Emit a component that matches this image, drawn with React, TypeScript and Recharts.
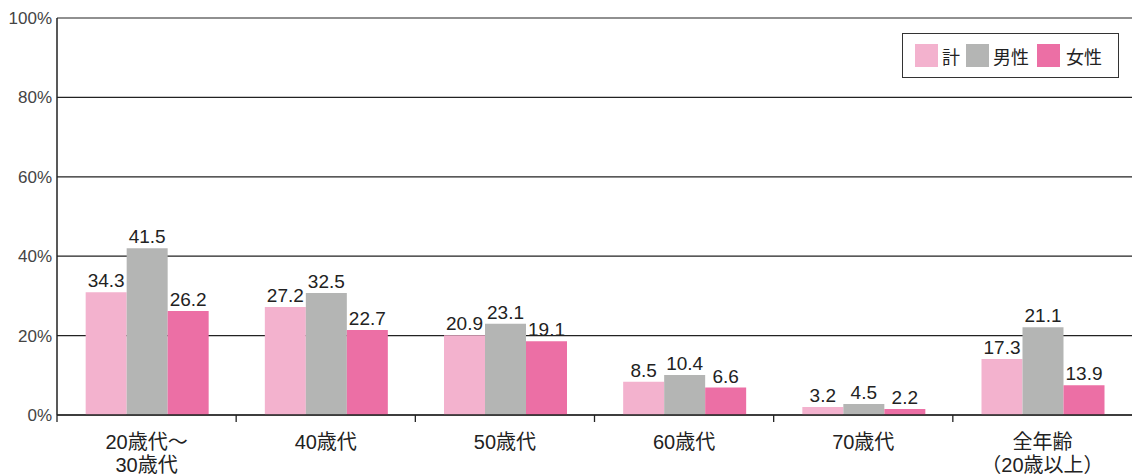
import React from 'react';
import { BarChart, Bar, XAxis, YAxis, CartesianGrid, LabelList } from 'recharts';

const categories = ['20歳代～\n30歳代', '40歳代', '50歳代', '60歳代', '70歳代', '全年齢\n（20歳以上）'];
const totalBars = [30.9, 27.2, 20.1, 8.4, 2.0, 14.1];
const maleBars = [42.0, 30.7, 23.0, 10.1, 2.8, 22.1];
const femaleBars = [26.2, 21.4, 18.6, 6.9, 1.5, 7.5];
const totalLabels = ['34.3', '27.2', '20.9', '8.5', '3.2', '17.3'];
const maleLabels = ['41.5', '32.5', '23.1', '10.4', '4.5', '21.1'];
const femaleLabels = ['26.2', '22.7', '19.1', '6.6', '2.2', '13.9'];
const yTicks = [0, 20, 40, 60, 80, 100];
const seriesNames = ['計', '男性', '女性'];
const colors = ['#F3B2CE', '#B4B5B4', '#EC6FA5'];

const data = categories.map((c, i) => ({
  name: c,
  total: totalBars[i],
  male: maleBars[i],
  female: femaleBars[i],
  totalLabel: totalLabels[i],
  maleLabel: maleLabels[i],
  femaleLabel: femaleLabels[i],
}));

const FONT = "'Liberation Sans', 'Noto Sans CJK JP', sans-serif";
const W = 1132;
const H = 476;
const LEFT = 57;
const BAND = (W - LEFT) / categories.length;

const CategoryTick = (props: any) => {
  const { x, y, payload } = props;
  const lines = String(payload.value).split('\n');
  const axisY = y - 8;
  return (
    <g>
      <line x1={x - BAND / 2} x2={x - BAND / 2} y1={axisY} y2={axisY + 7} stroke="#222" strokeWidth={1.3} />
      <text x={x} y={axisY + 34} textAnchor="middle" fontFamily={FONT} fontSize={20} fill="#222">
        {lines.map((l, i) => (
          <tspan key={i} x={x} dy={i === 0 ? 0 : 23}>{l}</tspan>
        ))}
      </text>
    </g>
  );
};

const LegendBox = () => (
  <div
    style={{
      position: 'absolute',
      left: 902,
      top: 33,
      width: 217,
      height: 45,
      border: '1.5px solid #333',
      background: '#fff',
      display: 'flex',
      alignItems: 'center',
      fontFamily: FONT,
      fontSize: 18,
      color: '#222',
      boxSizing: 'border-box',
      paddingLeft: 12,
    }}
  >
    {seriesNames.map((n, i) => (
      <div key={n} style={{ display: 'flex', alignItems: 'center', marginRight: i === 1 ? 8 : 6 }}>
        <div style={{ width: 23, height: 23, background: colors[i], marginRight: i === 2 ? 6 : 4 }} />
        <span>{n}</span>
      </div>
    ))}
  </div>
);

const labelStyle = { fontFamily: FONT, fontSize: 19, fill: '#222' };

export default function App() {
  return (
    <div style={{ position: 'absolute', left: 0, top: 0, width: W, height: H, background: '#fff' }}>
      <BarChart
        width={W}
        height={H}
        data={data}
        margin={{ top: 18, right: 0, bottom: 0, left: 0 }}
        barGap={0}
        barCategoryGap="16%"
      >
        <CartesianGrid vertical={false} stroke="#222" strokeWidth={1.2} />
        <XAxis
          dataKey="name"
          axisLine={{ stroke: '#222', strokeWidth: 1.5 }}
          tickLine={false}
          tick={<CategoryTick />}
          interval={0}
          height={61}
        />
        <YAxis
          domain={[0, 100]}
          ticks={yTicks}
          width={LEFT}
          tickFormatter={(v: number) => `${v}%`}
          axisLine={{ stroke: '#222', strokeWidth: 1.5 }}
          tickLine={false}
          tickSize={0}
          tickMargin={5}
          tick={{ fontFamily: FONT, fontSize: 17, fill: '#444' }}
        />
        <Bar dataKey="total" name="計" fill={colors[0]} isAnimationActive={false}>
          <LabelList dataKey="totalLabel" position="top" offset={5} style={labelStyle} />
        </Bar>
        <Bar dataKey="male" name="男性" fill={colors[1]} isAnimationActive={false}>
          <LabelList dataKey="maleLabel" position="top" offset={5} style={labelStyle} />
        </Bar>
        <Bar dataKey="female" name="女性" fill={colors[2]} isAnimationActive={false}>
          <LabelList dataKey="femaleLabel" position="top" offset={5} style={labelStyle} />
        </Bar>
      </BarChart>
      <LegendBox />
    </div>
  );
}
